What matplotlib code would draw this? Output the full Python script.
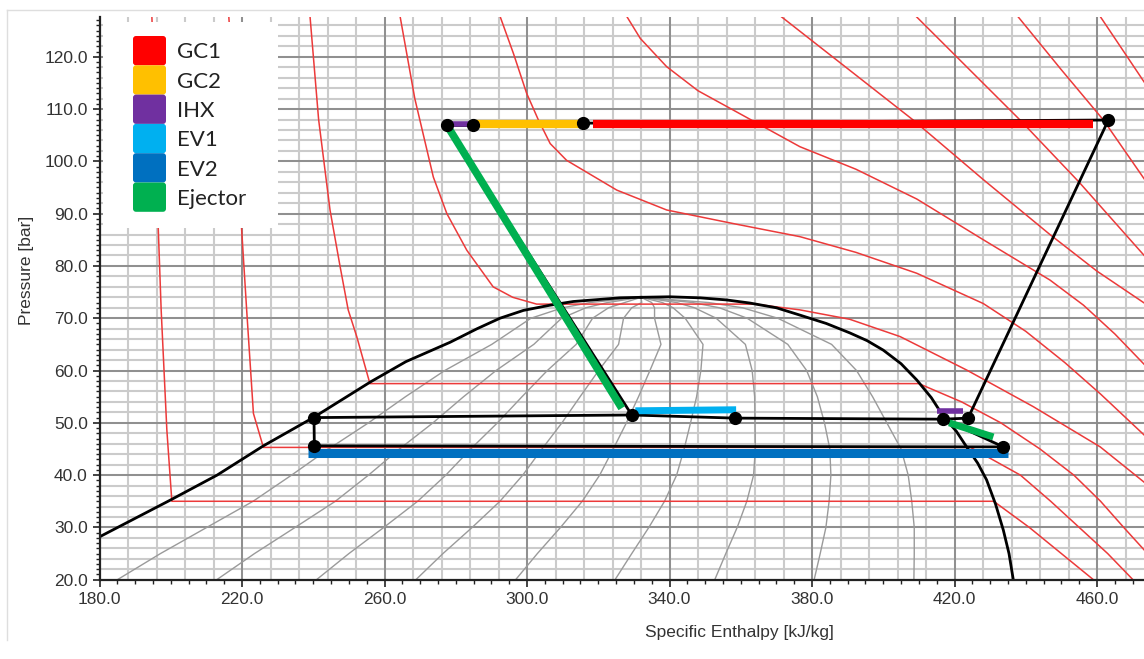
import numpy as np
import matplotlib
matplotlib.use("Agg")
import matplotlib.pyplot as plt
from matplotlib.lines import Line2D
from matplotlib.patches import FancyBboxPatch
from matplotlib.ticker import FixedLocator, MultipleLocator

# ---- saturation dome (h kJ/kg, p bar) ----
liq_h = [180.0, 199.8, 213.0, 226.0, 240.0, 256.0, 266.0, 278.4, 286.0, 292.4, 299.0,
         306.5, 313.0, 320.5, 326.0, 332.0]
liq_p = [28.2, 35.2, 40.0, 45.6, 51.0, 57.8, 61.7, 65.4, 68.0, 70.0, 71.5,
         72.5, 73.2, 73.6, 73.9, 74.0]
vap_h = [332.0, 340.0, 348.6, 356.0, 362.6, 370.0, 376.6, 384.0, 390.6, 395.5, 400.0,
         405.0, 409.4, 413.5, 416.9, 420.5, 423.4, 426.5, 429.0, 431.5, 433.7, 435.3, 436.5]
vap_p = [74.0, 74.1, 73.9, 73.5, 72.9, 72.0, 70.6, 69.0, 67.2, 65.7, 63.9,
         61.3, 58.2, 54.8, 51.2, 48.4, 45.4, 42.3, 39.1, 34.5, 29.5, 25.0, 20.0]

# ---- constant quality lines x = 0.1 ... 0.9 ----
q_p = [20, 25, 30, 35, 40, 45, 50, 55, 60, 65, 70, 72, 73, 74.0]
q_h = [
    [185.0, 197.1, 210.1, 223.1, 233.9, 244.3, 255.5, 265.9, 276.9, 290.1, 301.1, 310.0, 317.7, 332.0],
    [212.9, 223.5, 234.9, 246.2, 255.5, 264.2, 273.6, 282.2, 291.3, 301.9, 309.7, 316.5, 322.6, 332.0],
    [240.9, 250.0, 259.8, 269.3, 277.2, 284.2, 291.7, 298.6, 305.7, 313.8, 318.4, 322.9, 327.4, 332.0],
    [268.8, 276.4, 284.6, 292.4, 298.8, 304.2, 309.8, 314.9, 320.1, 325.7, 327.1, 329.4, 332.2, 332.0],
    [296.8, 302.9, 309.4, 315.5, 320.4, 324.2, 327.9, 331.3, 334.5, 337.6, 335.8, 335.8, 335.0, 332.0],
    [324.7, 329.4, 334.2, 338.6, 342.0, 344.1, 345.9, 347.6, 348.8, 349.4, 344.4, 341.0, 338.0, 332.0],
    [352.7, 355.8, 359.0, 361.7, 363.6, 364.1, 364.0, 363.9, 363.2, 361.3, 353.1, 347.0, 342.0, 332.0],
    [380.6, 382.3, 383.9, 384.8, 385.3, 385.0, 383.5, 381.5, 378.5, 373.2, 361.8, 354.0, 346.5, 332.0],
    [408.6, 408.7, 408.7, 408.0, 407.0, 405.0, 401.0, 397.0, 392.5, 385.5, 370.4, 360.5, 351.0, 332.0],
]

# ---- isotherms (red), 0 ... 90 degC ----
t00_h = [194.7, 195.8, 196.5, 197.3, 198.9, 200.3, 431.0, 441.0, 450.0, 459.0]
t00_p = [127.6, 105.0, 86.9, 71.6, 48.6, 35.0, 35.0, 30.0, 25.0, 20.0]
t10_h = [216.3, 218.3, 219.9, 221.3, 223.2, 226.0, 424.5, 438.5, 447.0, 455.0, 463.0, 470.1]
t10_p = [127.6, 105.0, 86.9, 71.6, 51.8, 45.3, 45.3, 40.0, 35.0, 30.0, 25.0, 20.0]
t20_h = [239.1, 241.5, 244.7, 247.5, 249.8, 252.2, 255.9, 410.0, 422.0, 433.0,
         444.0, 453.5, 461.0, 467.5, 473.5]
t20_p = [127.6, 108.0, 90.7, 80.0, 71.6, 66.5, 57.5, 57.5, 54.0, 50.0,
         45.0, 40.0, 35.0, 30.0, 25.5]
t30_h = [264.4, 268.5, 273.7, 277.5, 283.1, 290.5, 296.0, 302.7, 364.0, 376.6,
         390.6, 404.7, 423.4, 442.1, 460.9, 473.5]
t30_p = [127.6, 112.0, 97.0, 90.0, 83.0, 76.0, 74.0, 72.7, 72.7, 71.6,
         69.8, 66.5, 60.1, 53.1, 45.4, 38.5]
t40_h = [292.5, 296.2, 299.9, 303.2, 306.5, 311.1, 315.8, 325.2, 339.2, 357.9,
         376.6, 392.3, 409.4, 428.1, 440.0, 451.0, 461.0, 473.5]
t40_p = [127.6, 120.6, 113.0, 107.9, 103.4, 100.2, 98.3, 94.5, 90.7, 88.1,
         85.6, 82.6, 78.6, 72.8, 67.5, 61.5, 55.5, 47.5]
t50_h = [328.1, 331.8, 339.2, 348.0, 357.9, 376.6, 392.3, 409.4, 428.1, 446.8,
         456.2, 465.0, 473.5]
t50_p = [127.6, 123.5, 118.1, 113.5, 109.8, 102.8, 98.5, 92.8, 85.0, 77.3,
         72.5, 67.0, 61.0]
t60_h = [371.5, 392.3, 408.4, 428.1, 446.8, 460.0, 473.5]
t60_p = [127.6, 116.5, 107.9, 96.5, 86.0, 79.0, 72.8]
t70_h = [409.4, 425.0, 438.4, 455.0, 473.5]
t70_p = [127.6, 117.0, 107.9, 96.0, 81.8]
t80_h = [437.9, 450.0, 461.8, 473.5]
t80_p = [127.6, 117.5, 107.9, 96.4]
t90_h = [461.0, 473.5]
t90_p = [127.6, 114.9]
isotherms = [(t00_h, t00_p), (t10_h, t10_p), (t20_h, t20_p), (t30_h, t30_p),
             (t40_h, t40_p), (t50_h, t50_p), (t60_h, t60_p), (t70_h, t70_p),
             (t80_h, t80_p), (t90_h, t90_p)]

# ---- cycle state points ----
pt_h = [277.5, 284.9, 315.8, 463.2, 329.4, 358.4, 416.9, 423.8, 433.7, 240.2, 240.3]
pt_p = [106.9, 106.9, 107.3, 107.9, 51.5, 50.9, 50.7, 50.9, 45.4, 51.0, 45.6]

# thin black connections (pairs of point indices)
links = [(0, 1), (1, 2), (2, 3), (3, 7), (7, 6), (0, 4), (9, 4), (4, 5), (5, 6),
         (6, 8), (9, 10), (10, 8)]

# coloured process bars
seg_names = ["GC1", "GC2", "IHX", "EV1", "EV2", "Ejector"]
seg_colors = ["#FF0000", "#FFC000", "#7030A0", "#00B0F0", "#0070C0", "#00B050"]
gc1_h, gc1_p = [318.6, 459.0], [107.1, 107.1]
gc2_h, gc2_p = [285.5, 315.0], [107.1, 107.1]
ihx1_h, ihx1_p = [278.5, 284.0], [107.1, 107.1]
ihx2_h, ihx2_p = [415.0, 422.5], [52.2, 52.2]
ev1_h, ev1_p = [330.4, 358.7], [52.3, 52.5]
ev2_h, ev2_p = [238.6, 435.1], [44.2, 44.2]
ej1_h, ej1_p = [277.8, 326.6], [106.6, 52.8]
ej2_h, ej2_p = [418.5, 430.9], [50.0, 47.3]

x_major = [180, 220, 260, 300, 340, 380, 420, 460]
y_major = [20, 30, 40, 50, 60, 70, 80, 90, 100, 110, 120]

XMAX = 180 + (1144 - 99.5) / 3.5625
YMAX = 127.6

fig = plt.figure(figsize=(11.44, 6.59), dpi=100)

# faint panel border of the original screenshot
fig.add_artist(Line2D([7 / 1144, 1.0], [1 - 10 / 659, 1 - 10 / 659], color="#dedede", lw=1))
fig.add_artist(Line2D([7 / 1144, 7 / 1144], [1 - 10 / 659, 1 - 640 / 659], color="#dedede", lw=1))

ax = fig.add_axes([0.0870, 0.1203, 0.9130, 0.8539])
ax.set_xlim(180, XMAX)
ax.set_ylim(20, YMAX)

# grid: light lines every 8 kJ/kg and 2 bar, darker lines at the labelled values
gx = np.arange(188, XMAX, 8)
gy = np.arange(22, YMAX, 2)
ax.vlines(gx, 20, YMAX, color="#cbcbcb", lw=1.5, zorder=0)
ax.hlines(gy, 180, XMAX, color="#cbcbcb", lw=1.5, zorder=0)
ax.vlines(x_major[1:], 20, YMAX, color="#8a8a8a", lw=1.3, zorder=0)
ax.hlines(y_major[1:], 180, XMAX, color="#8a8a8a", lw=1.3, zorder=0)

ax.xaxis.set_major_locator(FixedLocator(x_major))
ax.xaxis.set_minor_locator(MultipleLocator(5))
ax.yaxis.set_major_locator(FixedLocator(y_major))
ax.yaxis.set_minor_locator(MultipleLocator(1))
ax.xaxis.set_major_formatter(lambda v, pos: f"{v:.1f}")
ax.yaxis.set_major_formatter(lambda v, pos: f"{v:.1f}")
ax.tick_params(which="major", length=5, width=1.2, colors="#222222", labelsize=12.5,
               labelcolor="#333333")
ax.tick_params(which="minor", length=3, width=1, colors="#222222")
for s in ["top", "right"]:
    ax.spines[s].set_visible(False)
for s in ["left", "bottom"]:
    ax.spines[s].set_linewidth(1.6)
    ax.spines[s].set_color("#222222")
    ax.spines[s].set_zorder(7)

for lab in ax.get_xticklabels() + ax.get_yticklabels():
    lab.set_family(["Liberation Sans", "DejaVu Sans"])

ax.set_xlabel("Specific Enthalpy [kJ/kg]", fontsize=12.5,
              family=["Liberation Sans", "DejaVu Sans"], color="#333333")
ax.set_ylabel("Pressure [bar]", fontsize=12.5,
              family=["Liberation Sans", "DejaVu Sans"], color="#333333")
ax.xaxis.set_label_coords(0.613, -0.080)
ax.yaxis.set_label_coords(-0.063, 0.55)

# quality lines
for qh in q_h:
    ax.plot(qh, q_p, color="#9a9a9a", lw=1.0, zorder=1)

# isotherms
for th, tp in isotherms:
    ax.plot(th, tp, color="#ec3a3a", lw=1.1, zorder=2)

# dome
ax.plot(liq_h, liq_p, color="black", lw=2.0, zorder=3)
ax.plot(vap_h, vap_p, color="black", lw=2.0, zorder=3)

# cycle connections
for a, b in links:
    ax.plot([pt_h[a], pt_h[b]], [pt_p[a], pt_p[b]], color="black", lw=2.0, zorder=4,
            solid_capstyle="butt")

# coloured process bars
ax.plot(gc1_h, gc1_p, color=seg_colors[0], lw=6, solid_capstyle="butt", zorder=5)
ax.plot(gc2_h, gc2_p, color=seg_colors[1], lw=6, solid_capstyle="butt", zorder=5)
ax.plot(ihx1_h, ihx1_p, color=seg_colors[2], lw=4, solid_capstyle="butt", zorder=5)
ax.plot(ihx2_h, ihx2_p, color=seg_colors[2], lw=4, solid_capstyle="butt", zorder=5)
ax.plot(ev1_h, ev1_p, color=seg_colors[3], lw=5, solid_capstyle="butt", zorder=5)
ax.plot(ev2_h, ev2_p, color=seg_colors[4], lw=6.5, solid_capstyle="butt", zorder=5)
ax.plot(ej1_h, ej1_p, color=seg_colors[5], lw=5.5, solid_capstyle="butt", zorder=5)
ax.plot(ej2_h, ej2_p, color=seg_colors[5], lw=5, solid_capstyle="butt", zorder=5)

# state points
ax.plot(pt_h, pt_p, "o", color="black", ms=8.5, zorder=6)

# legend box (pixel-like units inside its own axes)
lg = fig.add_axes([103 / 1144, 1 - 228 / 659, 175 / 1144, 206 / 659], zorder=10)
lg.set_xlim(0, 175)
lg.set_ylim(206, 0)
lg.axis("off")
lg.add_patch(plt.Rectangle((0, 0), 175, 206, color="white", zorder=0))
for i, (name, col) in enumerate(zip(seg_names, seg_colors)):
    y0 = 14 + i * 29.3
    lg.add_patch(FancyBboxPatch((31, y0 + 1), 31, 27.3, boxstyle="round,pad=1,rounding_size=3",
                                fc=col, ec="none", zorder=1))
    lg.text(74, y0 + 16.5, name, fontsize=16, family=["Lato", "DejaVu Sans"],
            va="center", ha="left", color="#222222")

fig.savefig("out.png", dpi=100)
